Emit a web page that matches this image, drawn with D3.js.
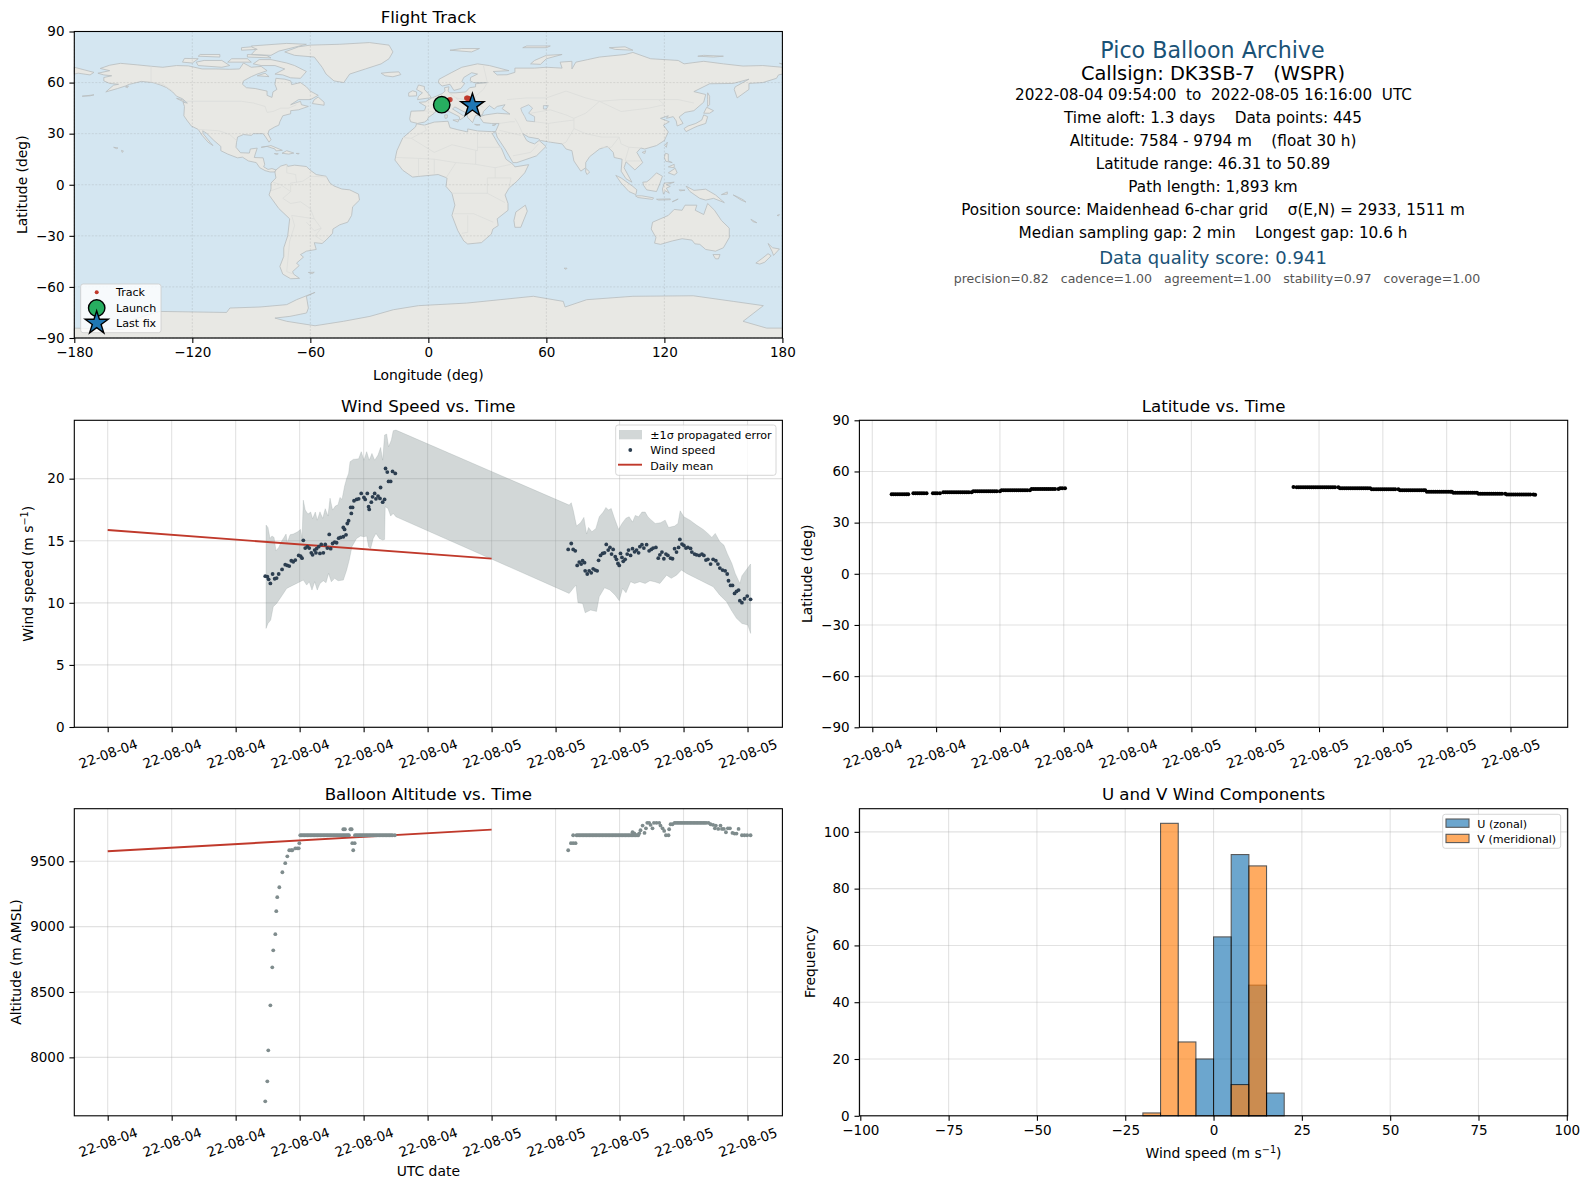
<!DOCTYPE html>
<html>
<head>
<meta charset="utf-8">
<title>Pico Balloon Archive</title>
<script src="https://cdn.jsdelivr.net/npm/d3@7"></script>
<style>
  body { margin: 0; background: #fff; }
  text { font-family: "DejaVu Sans", sans-serif; fill: #000; }
  .tick text { font-size: 13.5px; }
</style>
</head>
<body>
<svg id="fig" width="1589" height="1189"></svg>
<script>
// =====================
// Map outlines, [lon, lat]
// =====================
const landShapes = [
  // North America
  [[-168,65.5],[-162,67],[-166.8,68.3],[-162,70.2],[-156.5,71.3],[-148,70.4],[-141,69.6],[-135,69],[-128,70],[-122,69.8],[-115,68],[-108,68],[-101,67.8],[-96,68],[-94,71.5],[-90,69],[-85,69.5],[-82,67],[-87,65],[-90,63.5],[-94,61],[-94.5,59],[-92.5,57],[-88,56.5],[-82,55],[-82,52.5],[-79.5,51.3],[-79,54.5],[-77,56],[-78,59],[-77.5,62.5],[-73,62],[-70,61],[-69.5,58.8],[-65,60],[-62,57.5],[-60,55],[-56,52.5],[-60,50],[-66,50],[-70,47],[-65,49],[-64.5,47],[-61,46],[-66,44],[-70,43.5],[-70,41.7],[-74,40.5],[-75.5,37],[-76,35],[-78,34],[-81,32],[-81.5,30],[-80,26.5],[-81,25],[-82.7,28],[-84,30],[-89,30],[-90,29],[-94,29.5],[-97,28],[-97.5,25],[-97.8,22],[-95.5,18.8],[-91,18.6],[-90.5,21],[-87,21.5],[-88,18],[-88.5,16],[-84,15.8],[-83.2,12],[-83.7,10.5],[-81.5,9],[-79.5,9.5],[-77.5,8.7],[-78,7.5],[-80.5,7.5],[-83,8.3],[-85.7,10],[-87.5,13],[-91.5,14],[-94.5,16.2],[-97,15.8],[-102,18],[-105.5,20],[-105.5,22.5],[-109,26],[-112.5,30],[-114.7,31.7],[-114.5,30],[-111,25],[-109.5,23],[-112,25],[-115,29],[-117,32.5],[-120.5,34.5],[-122.5,37.5],[-124.3,40.5],[-124,46],[-124.7,48.4],[-122.5,48],[-125,50.5],[-128,52],[-130,54.5],[-133,57],[-136,58.5],[-140,60],[-146,60.7],[-150,59.5],[-152,59],[-154,58],[-158,56.5],[-164,54.5],[-160,58.5],[-157.5,59],[-162,59.5],[-165,61],[-165,63],[-161,64],[-165,64.5]],
  // Greenland and the Canadian islands
  [[-73,78],[-66,81],[-60,82],[-45,82.5],[-30,83.5],[-20,82],[-18,78],[-20,74],[-24,71],[-32,68],[-40,65],[-43,60],[-48,61],[-52,65],[-54,69],[-58,75],[-68,76]],
  [[-80,73.5],[-72,71.5],[-68,70],[-62,66.5],[-65,62.5],[-70,62.8],[-74,64.5],[-78,65],[-73,68],[-78,70],[-85,70],[-89,71],[-86,73.5]],
  [[-117,70],[-105,69],[-101,70],[-105,73],[-114,73],[-118,72]],
  [[-125,72],[-120,71.5],[-117,74],[-124,74.2]],
  [[-90,76.5],[-80,76],[-76,78.5],[-62,82.5],[-72,83],[-90,81.5],[-88,79]],
  [[-92,75],[-80,74.5],[-82,75.8],[-92,76.5]],
  [[-117,75.5],[-106,75],[-106,76.5],[-116,76.5]],
  [[-102,72],[-90,72],[-92,74],[-100,74]],
  [[-95,79],[-87,79.5],[-90,81],[-95,80.5]],
  [[-87,64],[-81,63.5],[-83,65.5]],
  [[-59,47.7],[-53,46.7],[-53,48.5],[-56,51.5],[-58,50]],
  [[-128,50.7],[-124,48.5],[-125,50]],
  // Caribbean, Pacific bits
  [[-85,22],[-80,23],[-74.2,20.2],[-77.5,19.9],[-78,21],[-82,22.5]],
  [[-74.4,18.5],[-72,20],[-68.4,18.6],[-71,18]],
  [[-78.3,18.3],[-76.3,18.2],[-77,17.8]],
  [[-67.2,18.4],[-65.7,18.4],[-66,18]],
  [[-156,20.2],[-155,19.7],[-155.7,19]],
  [[-160,22],[-157.8,21.6],[-158.5,21.2]],
  [[-176,52],[-170,52.8],[-172,52.2]],
  [[-154,57.5],[-152.5,58],[-153,57]],
  // South America
  [[-77.5,8.7],[-75,11],[-72,12],[-71.5,10.8],[-68,11.5],[-62,10.7],[-60,8.5],[-57,6],[-52,5],[-50,1],[-48,-0.7],[-44,-2.5],[-40,-3],[-35.5,-5.5],[-35,-9],[-38.5,-13],[-39,-18],[-41,-22],[-45,-23.5],[-48.5,-26],[-48.7,-28.5],[-52,-32.5],[-54,-34.5],[-58,-34],[-57,-38],[-62,-39],[-65,-41],[-63.5,-42.5],[-67,-46],[-65.7,-47.5],[-69,-51],[-68.5,-52.5],[-65.5,-55],[-70,-55.2],[-74,-52.5],[-75.5,-48],[-73.5,-42],[-73.5,-37],[-71.5,-30],[-70.5,-20],[-76,-14],[-81,-6],[-80,-2.5],[-80,1],[-77.5,4],[-78,7.5]],
  [[-61,-51.5],[-58,-51.4],[-59,-52.2]],
  // Africa and islands
  [[-6,35.8],[-2,35],[3,36.8],[10,37.3],[11,33.5],[15,32.3],[20,31],[20,32.8],[25,31.6],[32,31.2],[34.2,31.3],[32.5,30],[35.5,24],[37.3,21],[39.5,15],[43,12],[44,10.5],[51,11.8],[49,7],[45,2],[41,-2],[39,-6],[40.5,-11],[40.5,-15],[35,-20],[35.5,-24],[32.8,-26],[32,-29],[27,-34],[20,-34.8],[18,-33],[15,-27],[12,-18],[13.5,-12],[12,-5],[9,-1],[9.5,4],[5,6],[-4,5],[-8,4.5],[-13,8.5],[-17,14.5],[-16,20],[-13,27.5],[-9.5,31],[-6.5,34]],
  [[49.3,-12],[50.3,-15.5],[47,-25],[44,-25],[43.5,-21],[44.5,-16]],
  [[69,-49],[70.5,-49],[70,-49.7]],
  // Eurasia
  [[-9,37],[-9.5,38.7],[-8.8,43.2],[-2,43.5],[-1.2,46],[-4.7,48.4],[-1.5,48.7],[1.5,50.8],[4,52],[7,53.5],[8.5,55],[8.2,57],[10.5,57.5],[10,55],[11,54],[14,54],[19,54.5],[21,57],[24,57.5],[24,59.3],[30,60],[23,60],[21.3,61],[21.5,63],[25,65],[22,65.8],[18,63],[17,60.5],[18.5,59.5],[16.5,56.5],[13,55.4],[11,59],[7,58],[5,60],[5.5,62],[12,66],[17,69],[25,71],[31,70],[41,67],[33,66.5],[35,64.5],[40,64.6],[44,66],[44,68.5],[54,68.5],[60,69],[68,68.5],[67,72],[73,72.5],[73,68],[75,72],[81,73.5],[87,75],[100,76.5],[104,77.7],[113,74],[127,73],[130,71],[140,72.5],[150,71],[160,69.7],[170,70],[180,69],[180,65],[178,64.5],[177,62.5],[170,60],[163,59.5],[163,56],[157,51],[155.5,56],[156,57.5],[163,62],[155,59.5],[143,59.3],[135,54.7],[141,53],[140,48.5],[135,43.5],[130.5,42.5],[127.5,39.8],[129.5,36],[126.5,34.5],[126,37.5],[124.5,40],[121,39],[122,40.5],[118,39],[122.5,37],[119.5,35],[122,31],[120,26],[116,23],[110,21],[108,21.6],[106,19],[109,13],[105,8.7],[100.5,13.5],[99.5,10],[103.5,1.5],[100.5,3.5],[98,8],[98.5,15],[94.5,16],[94,19],[91,22.5],[87,21],[82,16.5],[80,13],[80,10],[77.5,8],[74,14],[73,20],[70,21],[68,24],[62,25],[57,26],[56,27],[51,28],[48,30],[50,26],[51.5,25],[54,24],[56.3,26],[59.8,22.5],[55,17],[45,13],[43,13],[39,21],[35,28],[34.2,31.3],[36,36],[32,36],[28,36.5],[26.5,39],[26,40],[29,41],[35,42],[41.5,41.5],[37.5,44.7],[39,47],[35,46],[33.5,44.5],[31,46.5],[28,43],[27.5,41],[24,40.7],[23,38],[22.5,36.5],[20,39.5],[19.5,42],[13.5,45.7],[12.3,44.5],[18.5,40],[16,38],[15.7,40],[10.5,43],[8.5,44.4],[4,43.4],[3,42],[0,39.5],[-0.5,38],[-2,36.8],[-5.5,36]],
  [[-180,69],[-175,67.5],[-170,66],[-172,64.5],[-178,65.5],[-180,65]],
  // European and Arctic islands
  [[-5.5,50],[1.5,51.2],[0,53.5],[-2,56],[-2,57.7],[-5,58.6],[-6,56],[-3,54],[-5,52]],
  [[-10,52],[-6,52.2],[-6,54.5],[-8,55.2],[-10,54]],
  [[-24,65.5],[-22,64],[-18,63.4],[-14,64.7],[-15,66.3],[-20,66]],
  [[12.5,38],[15.5,38.2],[15,36.8]],
  [[8.3,41],[9.7,41],[9.5,39.2],[8.5,39]],
  [[23.5,35.5],[26.3,35.2],[24.7,34.9]],
  [[32.5,35],[34.5,35.6],[33.5,34.7]],
  [[52,71],[57,70.7],[60,74],[68,76.5],[60,76],[54,73]],
  [[11,79],[22,78],[26,80],[17,80]],
  [[48,80.5],[60,80.5],[62,81.5],[50,81.5]],
  [[95,79.5],[104,79],[100,81],[92,80.5]],
  [[137,75.5],[145,75],[150,75.5],[140,76]],
  [[178.5,71.3],[180,71],[180,70.8]],
  // East Asia and the islands down to Australia
  [[142,54],[143,52],[143,47],[142,46],[142,50]],
  [[130,33],[132,34.5],[136,36],[139,38],[140,41],[142,40],[141,36],[137,34.5],[135,33.5],[131,31.2]],
  [[140,42],[141.5,45.5],[145,43.5],[143,42]],
  [[120.2,23],[121.5,25],[121,22]],
  [[108.7,19],[110.5,20],[110,18.3]],
  [[120,16],[120.5,18.5],[122,18],[122,14],[124,13],[120.7,13.8]],
  [[122,7],[125.5,9.7],[126.5,7],[125,5.7]],
  [[122,10.5],[125,12],[125,10]],
  [[109,1.5],[111,1.7],[113,3.5],[116,7],[119,5],[117.8,1],[116,-4],[111,-3],[109.5,-0.5]],
  [[95.3,5.5],[98,4],[104,-1],[106,-3],[105.5,-5.8],[102,-4],[98,1]],
  [[105.3,-6.5],[108.5,-6.5],[114.5,-7.7],[114,-8.6],[106.5,-7.5]],
  [[119.5,-5.5],[119,-2.5],[120,1],[125,1.5],[121,0],[123,-1],[121,-2],[122.5,-5],[120.5,-3.5]],
  [[116,-8.5],[123,-8.3],[123,-8.8],[117,-9]],
  [[124,-10],[127,-8.4],[125,-9.5]],
  [[127.5,-3],[130.5,-3.2],[128,-3.6]],
  [[131,-0.8],[135,-3.3],[141,-2.6],[146,-6],[150.5,-10.5],[145,-8],[141,-9],[138,-8],[133,-4]],
  [[149,-5.8],[152,-4.2],[152,-5.5]],
  [[155,-6],[157,-7],[160,-8.8],[161.5,-10.2],[159,-9]],
  [[80,9.7],[82,7.5],[80.7,6],[80,7.5]],
  [[114,-22],[122,-18],[125,-14.5],[129,-15],[130.5,-12],[136.5,-12],[135.7,-15],[140,-17.5],[142,-11],[145.5,-15],[149,-21],[153,-25.5],[153,-31],[150,-37],[146,-39],[141,-38],[138,-35],[135.5,-34.7],[134,-32.5],[129,-31.7],[124,-33],[118,-35],[115,-34.3],[115.7,-31],[113.3,-26]],
  [[144.7,-41],[148.3,-41],[147.5,-43.5],[146,-43.5]],
  [[172.7,-34.5],[175,-37],[178.5,-37.7],[175.5,-41.5],[174.7,-39]],
  [[172.7,-40.5],[174.3,-41.7],[171,-45.5],[168.5,-46.6],[166.5,-46],[170,-43]],
  [[164,-20.3],[167,-22.3],[165,-21.7]],
  [[177.3,-18],[178.5,-17.5],[178,-18.3]],
  // Antarctica
  [[-180,-84.2],[-155,-85],[-150,-79],[-136.5,-74.4],[-102.6,-75],[-100.9,-72.4],[-85.6,-71.8],[-72,-70.4],[-67,-67.5],[-57.6,-63.2],[-62,-65.5],[-61,-72.4],[-61.9,-75.3],[-70.4,-77.3],[-78,-78.3],[-72,-80.2],[-57.6,-82.8],[-43.2,-80.2],[-29.7,-77.3],[-17.8,-73.4],[-5,-71],[19.5,-69.5],[53.4,-65.5],[68.6,-68.5],[69.5,-71.8],[80.5,-67.5],[104,-65.5],[134.7,-65.2],[155,-68.5],[170.3,-71],[160,-80.2],[172,-84.2],[180,-84.2],[180,-90],[-180,-90]]
];
const lakeShapes = [
  [[47,45],[51,47],[53,45],[51,42],[54,40],[54,37],[50,37.5],[49,40],[47.5,43]],
  [[58.5,46.5],[61,46.5],[60,44.5],[58.5,44.5]]
];
const borderLines = [
  [[-123,49],[-95,49],[-89,48],[-83,46],[-82,42.5],[-79,43],[-75,45],[-71,45],[-67,47]],
  [[-141,69.6],[-141,60.3],[-135,59],[-130,55]],
  [[-117,32.5],[-106.5,31.7],[-101,29.5],[-97.5,26]],
  [[-51.5,4.5],[-60,5],[-64,2],[-70,1],[-70,-4],[-74,-8],[-70,-11],[-65,-10],[-60,-14],[-58,-20],[-54.5,-25.5],[-57.5,-30],[-53,-33.5]],
  [[-69.5,-18],[-68,-24],[-70.5,-33],[-71.5,-45],[-72,-51],[-68.5,-52.5]],
  [[-72,12],[-72,7],[-67.5,6],[-67,1.5]],
  [[-79,1.5],[-75,0],[-70,-4]],
  [[-80,-3.5],[-75,-1.5]],
  [[-69.5,-18],[-58,-20]],
  [[-62,-22],[-58,-27],[-54.5,-25.5]],
  [[-8.7,27.3],[-1,32],[-2,35]],
  [[-13,27.7],[-8.7,27.3],[3,19],[12,23.5],[25,20],[25,31.6]],
  [[25,22],[37,22]],
  [[-16.5,16],[-5,15.5],[3,15],[14,13],[24,12],[24,20]],
  [[14,13],[9,4]],
  [[24,12],[34,10],[42,12]],
  [[34,4],[34,10]],
  [[12,-5],[30,-5],[30,4],[34,4],[42,4],[41,-2]],
  [[13,-17],[23,-17],[25,-18],[33,-22]],
  [[20,-18],[20,-28],[17,-28.5]],
  [[30,-5],[39,-10.5]],
  [[-5,5],[-5,15.5]],
  [[3,6.5],[3,15]],
  [[28,70],[30,60],[28,56],[24,52],[23,48],[28,45.5]],
  [[10,54.5],[14,51],[23,49]],
  [[-2,43.5],[3,42.5]],
  [[2,51],[8,48],[7,44]],
  [[14,51],[17,48],[23,48]],
  [[40,50],[50,51],[60,51],[70,55],[80,51],[87,49],[98,50],[107,50],[117,50],[127,50],[135,48]],
  [[87,49],[80,42],[74,39],[74,33],[80,30],[88,28],[97,28],[98,24],[102,22],[108,21.6]],
  [[97,28],[93,22],[88,22]],
  [[74,33],[70,25],[68,24]],
  [[61,25],[61,36],[67,37],[74,38]],
  [[54,37],[61,36]],
  [[44,39],[46,35],[48,30]],
  [[36,36],[42,37],[44,37]],
  [[36,32],[47,29]],
  [[52,42],[62,44],[70,41],[74,39]],
  [[87,49],[98,43],[112,45],[120,47],[117,50]],
  [[102,22],[100,14],[105,14],[108,14]],
  [[43,17],[52,19],[56,24]]
];

// =====================
// Map markers, [lon, lat]
// =====================
const trackPoints = [[7,47],[8,48],[9,48.8],[10,49.5],[11,50],[19.5,50.9],[20,50.8],[20.5,50.5],[21,49.5],[22,47.5]];
const launchPoint = [6.8, 47];
const lastFixPoint = [22.4, 46.6];

// =====================
// Time series. Hours are counted from 2022-08-04 00:00 UTC.
// =====================
const windPoints = [
  [9.85,12.15],[9.98,12.1],[10.06,11.89],[10.17,11.56],[10.31,12.32],[10.44,11.94],[10.56,11.99],[10.69,12.32],[10.9,12.69],[11.1,13.07],[11.23,13.01],[11.35,12.96],[11.48,13.39],[11.6,13.31],[11.73,13.44],[11.94,13.82],[12.06,13.76],[12.15,13.6],[12.23,15.03],[12.35,14.41],[12.48,14.52],[12.6,14.41],[12.73,14.03],[12.81,13.87],[12.94,14.25],[13.02,14.03],[13.06,14.36],[13.19,14.52],[13.27,13.98],[13.35,14.7],[13.48,14.03],[13.6,14.7],[13.73,14.41],[13.85,15.51],[13.94,14.36],[14.06,14.78],[14.19,14.89],[14.31,14.84],[14.44,15.21],[14.56,15.27],[14.73,15.32],[14.9,15.48],[14.73,16.07],[14.81,15.91],[14.98,16.39],[15.06,16.61],[15.23,17.2],[15.19,17.68],[15.31,17.68],[15.4,18.22],[15.56,18.33],[15.69,18.38],[15.85,18.81],[16.02,18.49],[16.1,18.33],[16.23,18.81],[16.31,17.74],[16.35,17.52],[16.48,18.11],[16.56,18.54],[16.69,18.81],[16.77,18.38],[16.9,18.6],[17.02,18.41],[17.19,18.11],[17.31,18.33],[17.06,19.29],[17.37,20.82],[17.48,20.53],[17.56,19.78],[17.69,19.78],[17.81,20.58],[17.98,20.42],
  [28.79,14.3],[28.98,14.78],[29.1,14.3],[29.23,14.19],[29.35,13.01],[29.48,13.28],[29.6,13.12],[29.69,13.39],[29.81,13.23],[29.85,12.58],[29.98,12.32],[30.1,12.58],[30.23,12.42],[30.35,12.74],[30.48,12.64],[30.6,12.58],[30.69,13.42],[30.81,13.82],[30.94,13.98],[31.06,14.03],[31.17,14.7],[31.29,14.25],[31.4,14.46],[31.5,13.93],[31.6,14.3],[31.73,13.71],[31.81,13.5],[31.9,13.17],[31.98,13.01],[32.06,13.98],[32.15,13.66],[32.23,13.34],[32.35,13.5],[32.48,13.93],[32.56,14.25],[32.69,13.82],[32.81,14.36],[32.94,14.11],[33.06,14.25],[33.19,14.03],[33.27,14.52],[33.4,14.68],[33.52,14.41],[33.69,14.68],[33.85,14.19],[33.98,14.3],[34.1,14.41],[34.27,14.46],[34.42,13.6],[34.52,13.87],[34.65,14.09],[34.77,13.55],[34.9,13.93],[35.02,13.82],[35.19,13.6],[35.31,13.55],[35.44,14.36],[35.56,14.09],[35.69,14.46],[35.77,15.11],[35.9,14.73],[36.02,14.62],[36.15,14.41],[36.27,14.46],[36.44,14.38],[36.52,14.09],[36.69,13.93],[36.81,13.87],[36.98,13.82],[37.15,13.93],[37.27,13.82],[37.4,13.44],[37.52,13.5],[37.69,13.12],[37.85,13.5],[38.02,13.39],[38.15,13.12],[38.27,12.8],[38.44,12.64],[38.6,12.58],[38.73,12.32],[38.81,11.78],[38.94,11.4],[39.06,11.4],[39.19,10.76],[39.31,10.92],[39.44,11.03],[39.52,10.17],[39.65,10.01],[39.81,10.33],[39.98,10.54],[40.19,10.28]
];
const bandUpper = [
  [9.9,16.26],[10.02,16.07],[10.15,15.19],[10.27,15.38],[10.4,15.27],[10.52,14.19],[10.69,14.46],[10.85,14.92],[11.02,15.27],[11.15,15.54],[11.23,14.84],[11.4,15.48],[11.6,15.54],[11.85,15.7],[12.06,15.91],[12.15,15.19],[12.23,18.27],[12.35,17.47],[12.52,17.15],[12.69,17.31],[12.81,16.77],[12.98,17.31],[13.1,16.66],[13.27,17.33],[13.44,16.8],[13.6,17.58],[13.77,16.99],[13.9,18.43],[14.06,17.47],[14.23,17.79],[14.4,17.9],[14.52,18.49],[14.65,18.33],[14.81,19.4],[14.94,20.02],[15.06,20.42],[15.15,21.36],[15.35,21.55],[15.69,21.6],[15.85,22.17],[16.02,21.49],[16.19,22.17],[16.35,21.49],[16.52,22.03],[16.69,21.49],[16.9,21.9],[17.06,22.51],[17.19,21.49],[17.31,23.51],[17.44,23.59],[17.56,22.57],[17.73,23.1],[17.85,23.86],[18.02,23.91],
  [28.85,17.87],[28.98,18.06],[29.1,17.47],[29.31,16.18],[29.56,16.45],[29.77,16.88],[29.94,15.54],[30.06,16.07],[30.27,15.72],[30.52,15.99],[30.73,16.93],[30.98,17.31],[31.15,17.68],[31.31,17.47],[31.48,17.6],[31.65,16.93],[31.94,15.91],[32.15,16.39],[32.4,16.82],[32.6,16.93],[32.81,16.5],[32.98,17.04],[33.19,16.93],[33.4,17.31],[33.6,17.31],[33.77,16.93],[33.94,16.72],[34.23,16.39],[34.56,16.45],[34.85,16.66],[35.06,16.07],[35.44,16.18],[35.65,16.39],[35.79,17.41],[36.02,16.93],[36.4,16.66],[36.81,16.26],[37.23,15.91],[37.52,15.59],[37.77,15.27],[37.98,15.59],[38.27,14.92],[38.52,14.65],[38.73,13.98],[39.02,13.17],[39.23,12.37],[39.52,11.56],[39.65,12.18],[39.85,12.53],[40.19,13.12]
];
const bandLower = [
  [9.9,7.94],[10.02,8.34],[10.19,8.61],[10.35,9.69],[10.56,9.95],[10.85,10.49],[11.19,11.16],[11.4,11.3],[11.81,11.56],[12.02,11.7],[12.23,11.83],[12.44,11.43],[12.6,11.7],[12.77,11.03],[12.94,11.7],[13.1,11.03],[13.27,11.56],[13.48,11.78],[13.65,11.62],[13.81,12.37],[13.98,11.7],[14.19,11.97],[14.4,11.78],[14.73,11.83],[14.94,12.64],[15.1,13.44],[15.27,14.52],[15.56,15.19],[15.81,15.38],[16.02,15.32],[16.19,15.38],[16.31,14.52],[16.44,14.38],[16.6,15.19],[16.77,15.59],[16.98,15.19],[17.19,15.05],[17.31,15.11],[17.35,17.74],[17.52,17.6],[17.69,16.99],[17.85,17.2],[18.02,16.93],
  [28.85,10.76],[29.27,11.43],[29.4,10.01],[29.69,9.95],[29.85,9.2],[30.19,9.42],[30.56,9.31],[30.73,10.49],[31.06,11.21],[31.4,11.03],[31.73,10.62],[31.98,10.17],[32.19,11.16],[32.4,10.81],[32.69,11.7],[32.94,11.56],[33.27,11.7],[33.6,11.56],[33.9,11.78],[34.19,11.7],[34.52,11.56],[34.94,12.23],[35.23,11.97],[35.56,12.23],[35.87,12.64],[36.19,12.37],[36.6,12.1],[37.1,11.78],[37.44,11.56],[37.85,11.3],[38.27,10.62],[38.69,10.09],[38.98,9.42],[39.31,8.75],[39.65,8.34],[40.02,8.21],[40.19,7.54]
];
const meanHours = [0, 24];
const windMean = [15.86, 13.56];
const altMean = [9576, 9742];

const altPoints = [
  [9.85,7664],[9.98,7817],[10.04,8054],[10.17,8398],[10.29,8689],[10.35,8819],[10.48,8942],[10.54,9118],[10.6,9225],[10.73,9301],[10.92,9416],[11.1,9485],[11.23,9538],[11.35,9584],[11.48,9584],[11.54,9584],[11.73,9599],[11.85,9599],[11.94,9599],[11.98,9638],
  [14.73,9745],[14.83,9745],[15.17,9745],[15.25,9745],[15.29,9638],[15.44,9638],[15.35,9584],
  [28.79,9584],[28.96,9638],[29.1,9638],[29.25,9638],[29.1,9699],[32.81,9722],[32.92,9714],[33.23,9714],[33.31,9737],[33.44,9773],[33.56,9717],[33.65,9752],[33.73,9794],[33.85,9794],[33.94,9778],[34.06,9752],[34.15,9794],[34.31,9794],[34.48,9794],[34.56,9773],[34.69,9752],[34.79,9732],[34.9,9699],[35.06,9699],[35.1,9745],[35.19,9783],[35.31,9783],
  [37.69,9783],[37.85,9778],[37.96,9752],[38.02,9773],[38.17,9747],[38.31,9773],[38.4,9747],[38.52,9747],[38.65,9722],[38.77,9752],[38.9,9752],[39.06,9717],[39.19,9712],[39.31,9712],[39.44,9747],[39.65,9699],[39.81,9699],[39.98,9699],[40.19,9699]
];
// The float levels: one altitude, many fixes.
const floatLow = 9699, floatHigh = 9794;
const floatLowHours = [12.04,12.13,12.22,12.31,12.4,12.49,12.58,12.67,12.76,12.85,12.94,13.03,13.12,13.21,13.3,13.39,13.48,13.57,13.66,13.75,13.84,13.93,14.02,14.11,14.2,14.29,14.38,14.47,14.56,14.65,14.74,14.83,14.92,15.01,15.08,
  15.46,15.55,15.64,15.73,15.82,15.91,16.0,16.09,16.18,16.27,16.36,16.45,16.54,16.63,16.72,16.81,16.9,16.99,17.08,17.17,17.26,17.35,17.44,17.53,17.62,17.71,17.8,17.95,
  29.31,29.4,29.49,29.58,29.67,29.76,29.85,29.94,30.03,30.12,30.21,30.3,30.39,30.48,30.57,30.66,30.75,30.84,30.93,31.02,31.11,31.2,31.29,31.38,31.47,31.56,31.65,31.74,31.83,31.92,32.01,32.1,32.19,32.28,32.37,32.46,32.55,32.64,32.73,32.82,32.91,33.0,33.09,33.17];
const floatHighHours = [35.44,35.53,35.62,35.71,35.8,35.89,35.98,36.07,36.16,36.25,36.34,36.43,36.52,36.61,36.7,36.79,36.88,36.97,37.06,37.15,37.24,37.33,37.42,37.56];

// Latitude stays on a grid square for a while, then jumps: [lat, hours...]
const latRuns = [
  [46.6, [9.91,10.0,10.1,10.2,10.3,10.4,10.5,10.6,10.69]],
  [47.2, [10.93,11.03,11.13,11.23,11.33,11.43,11.55,11.85,11.95,12.05,12.18]],
  [47.76, [12.34,12.44,12.54,12.64,12.74,12.84,12.94,13.04,13.14,13.24,13.34,13.44,13.54,13.67]],
  [48.35, [13.75,13.85,13.95,14.05,14.15,14.25,14.35,14.45,14.55,14.65,14.75,14.85,15.0]],
  [49.04, [15.08,15.18,15.28,15.38,15.48,15.58,15.68,15.78,15.88,15.98,16.08,16.18,16.28,16.41]],
  [49.72, [16.49,16.59,16.69,16.79,16.89,16.99,17.09,17.19,17.29,17.39,17.49,17.59,17.75]],
  [50.1, [17.83,17.93,18.06]],
  [50.89, [28.8]],
  [50.8, [28.95,29.05,29.15,29.25,29.35,29.45,29.55,29.65,29.75,29.85,29.95,30.05,30.15,30.25,30.35,30.45,30.55,30.65,30.75,30.91]],
  [50.1, [30.99,31.09,31.19,31.29,31.39,31.49,31.59,31.69,31.79,31.89,31.99,32.09,32.19,32.29,32.4]],
  [49.53, [32.48,32.58,32.68,32.78,32.88,32.98,33.08,33.18,33.28,33.38,33.48,33.58,33.73]],
  [48.94, [33.81,33.91,34.01,34.11,34.21,34.31,34.41,34.51,34.61,34.71,34.81,34.91,34.99]],
  [48.16, [35.07,35.17,35.27,35.37,35.47,35.57,35.67,35.77,35.87,35.97,36.07,36.17,36.24]],
  [47.57, [36.32,36.42,36.52,36.62,36.72,36.82,36.92,37.02,37.12,37.22,37.32,37.42]],
  [46.98, [37.5,37.6,37.7,37.8,37.9,38.0,38.1,38.2,38.3,38.4,38.5,38.6,38.75]],
  [46.5, [38.83,38.93,39.03,39.13,39.23,39.33,39.43,39.53,39.63,39.73,39.83,39.93,40.08]],
  [46.31, [40.16]]
];

// =====================
// Histogram counts, per 5 m/s bin
// =====================
const binEdges = [-20, -15, -10, -5, 0, 5, 10, 15];
const uCounts = [0, 0, 0, 20, 63, 92, 46, 8];
const vCounts = [1, 103, 26, 0, 0, 11, 88, 0];

// =====================
// Info panel text: line, y, font size, colour, x
// =====================
const infoLines = [
  ["Pico Balloon Archive", 50.5, 22.2, "#1a5276", 1212.5],
  ["Callsign: DK3SB-7   (WSPR)", 73.3, 19.4, "#000", 1213],
  ["2022-08-04 09:54:00  to  2022-08-05 16:16:00  UTC", 94.3, 15.2, "#000", 1213.5],
  ["Time aloft: 1.3 days    Data points: 445", 117.3, 15.28, "#000", 1213],
  ["Altitude: 7584 - 9794 m    (float 30 h)", 140.3, 15.28, "#000", 1213],
  ["Latitude range: 46.31 to 50.89", 163.3, 15.28, "#000", 1213],
  ["Path length: 1,893 km", 186.3, 15.28, "#000", 1213],
  ["Position source: Maidenhead 6-char grid    σ(E,N) = 2933, 1511 m", 209.7, 15.28, "#000", 1213],
  ["Median sampling gap: 2 min    Longest gap: 10.6 h", 232.7, 15.28, "#000", 1213],
  ["Data quality score: 0.941", 257.3, 18, "#1a5276", 1213],
  ["precision=0.82   cadence=1.00   agreement=1.00   stability=0.97   coverage=1.00", 278, 12.55, "#555", 1217]
];

// =====================
// Layout and colours
// =====================
const colLeft = [74.3, 782.4], colRight = [859.4, 1567.7];
const rowTop = [31.5, 338], rowMid = [420.3, 727.3], rowBot = [808.7, 1115.8];
const red = "#c0392b", slate = "#2c3e50", teal = "#7f8c8d";
const tickLen = 4.9, tickPad = 4.9;

const svg = d3.select("#fig");
const hourToDate = h => new Date(Date.UTC(2022, 7, 4) + h * 3600e3);
const axisDate = d3.utcFormat("%y-%m-%d");

// Draws grid, axes and spines for one panel, returns the layers to draw in.
function panel(cols, rows, x, y, xAxis, yAxis, title, gridStyle) {
  const g = svg.append("g");
  const back = g.append("g");
  const grid = g.append("g").attr("fill", "none")
    .attr("stroke", gridStyle.color).attr("stroke-opacity", gridStyle.opacity)
    .attr("stroke-width", gridStyle.width).attr("stroke-dasharray", gridStyle.dash);
  xAxis.tickValues().forEach(t => {
    grid.append("line").attr("x1", x(t)).attr("x2", x(t)).attr("y1", rows[0]).attr("y2", rows[1]);
  });
  yAxis.tickValues().forEach(t => {
    grid.append("line").attr("x1", cols[0]).attr("x2", cols[1]).attr("y1", y(t)).attr("y2", y(t));
  });
  const marks = g.append("g");

  const gx = g.append("g").attr("transform", `translate(0,${rows[1]})`)
    .call(xAxis.tickSize(tickLen).tickPadding(tickPad).tickSizeOuter(0));
  const gy = g.append("g").attr("transform", `translate(${cols[0]},0)`)
    .call(yAxis.tickSize(tickLen).tickPadding(tickPad).tickSizeOuter(0));
  gx.select(".domain").remove();
  gy.select(".domain").remove();
  g.selectAll(".tick line").attr("stroke", "#000").attr("stroke-width", 1.1);

  g.append("rect").attr("x", cols[0]).attr("y", rows[0])
    .attr("width", cols[1] - cols[0]).attr("height", rows[1] - rows[0])
    .attr("fill", "none").attr("stroke", "#000").attr("stroke-width", 1.1);

  g.append("text").attr("x", (cols[0] + cols[1]) / 2).attr("y", rows[0] - 8.3)
    .attr("text-anchor", "middle").attr("font-size", 16.67).text(title);
  return { g, back, marks, gx };
}

function rotateDateLabels(gx) {
  gx.selectAll(".tick text")
    .attr("y", 0).attr("dy", "0.35em")
    .attr("transform", "translate(0,26.5) rotate(-20)");
}

function axisLabel(text, x, y, rotated, sup) {
  const t = svg.append("text").attr("text-anchor", "middle").attr("font-size", 13.9)
    .attr("transform", `translate(${x},${y})` + (rotated ? " rotate(-90)" : ""));
  t.append("tspan").text(text);
  if (sup) {
    t.append("tspan").text("\u22121").attr("font-size", 9.7).attr("dy", -5.5);
    t.append("tspan").text(")").attr("dy", 5.5);
  }
}

const plotGrid = { color: "#b0b0b0", opacity: 0.36, width: 1.1, dash: null };
const mapGrid = { color: "#808080", opacity: 0.28, width: 0.7, dash: "2,1.5" };

// =====================
// Flight Track map
// =====================
const lonScale = d3.scaleLinear([-180, 180], colLeft);
const latScale = d3.scaleLinear([-90, 90], [rowTop[1], rowTop[0]]);
const mapPanel = panel(colLeft, rowTop, lonScale, latScale,
  d3.axisBottom(lonScale).tickValues(d3.range(-180, 181, 60)),
  d3.axisLeft(latScale).tickValues(d3.range(-90, 91, 30)),
  "Flight Track", mapGrid);
const mapPath = d3.line().x(d => lonScale(d[0])).y(d => latScale(d[1]));

mapPanel.back.append("rect").attr("x", colLeft[0]).attr("y", rowTop[0])
  .attr("width", colLeft[1] - colLeft[0]).attr("height", rowTop[1] - rowTop[0])
  .attr("fill", "#d4e6f1");
mapPanel.back.selectAll("path.land").data(landShapes).enter().append("path")
  .attr("class", "land").attr("d", d => mapPath(d) + "Z")
  .attr("fill", "#e8e8e4").attr("stroke", "#b8bcbe").attr("stroke-width", 0.8)
  .attr("stroke-linejoin", "round");
mapPanel.back.selectAll("path.border").data(borderLines).enter().append("path")
  .attr("class", "border").attr("d", mapPath)
  .attr("fill", "none").attr("stroke", "#dcdddb").attr("stroke-width", 0.8);
mapPanel.back.selectAll("path.lake").data(lakeShapes).enter().append("path")
  .attr("class", "lake").attr("d", d => mapPath(d) + "Z")
  .attr("fill", "#d4e6f1").attr("stroke", "#b8bcbe").attr("stroke-width", 0.7);

mapPanel.marks.selectAll("circle").data(trackPoints).enter().append("circle")
  .attr("cx", d => lonScale(d[0])).attr("cy", d => latScale(d[1]))
  .attr("r", 2.7).attr("fill", red).attr("fill-opacity", 0.9);

const starPath = d3.symbol(d3.symbolStar, 165)();
mapPanel.marks.append("circle")
  .attr("cx", lonScale(launchPoint[0])).attr("cy", latScale(launchPoint[1]))
  .attr("r", 8.2).attr("fill", "#27ae60").attr("stroke", "#000").attr("stroke-width", 1.4);
mapPanel.marks.append("path").attr("d", starPath)
  .attr("transform", `translate(${lonScale(lastFixPoint[0])},${latScale(lastFixPoint[1])})`)
  .attr("fill", "#1f77b4").attr("stroke", "#000").attr("stroke-width", 1.4);

// Map legend
const mapLegend = svg.append("g");
mapLegend.append("rect").attr("x", 80.7).attr("y", 284).attr("width", 80.3).attr("height", 48.7).attr("rx", 2.5)
  .attr("fill", "#fff").attr("fill-opacity", 0.8).attr("stroke", "#ccc").attr("stroke-width", 0.8);
mapLegend.append("circle").attr("cx", 96.7).attr("cy", 292.3).attr("r", 2).attr("fill", red);
mapLegend.append("circle").attr("cx", 96.7).attr("cy", 308).attr("r", 8.2)
  .attr("fill", "#27ae60").attr("stroke", "#000").attr("stroke-width", 1.4);
mapLegend.append("path").attr("d", starPath).attr("transform", "translate(96.7,323)")
  .attr("fill", "#1f77b4").attr("stroke", "#000").attr("stroke-width", 1.4);
[["Track", 292.3], ["Launch", 308.3], ["Last fix", 323.3]].forEach(d => {
  mapLegend.append("text").attr("x", 116).attr("y", d[1]).attr("dy", "0.35em")
    .attr("font-size", 11.1).text(d[0]);
});
axisLabel("Longitude (deg)", 428.3, 379.5, false);
axisLabel("Latitude (deg)", 27, 184.7, true);

// =====================
// Info panel
// =====================
svg.append("g").selectAll("text").data(infoLines).enter().append("text")
  .attr("x", d => d[4]).attr("y", d => d[1]).attr("dy", "0.36em")
  .attr("text-anchor", "middle").attr("font-size", d => d[2])
  .style("white-space", "pre").style("fill", d => d[3]).text(d => d[0]);

// =====================
// Shared time scale for the wind and altitude panels: 4 hour ticks
// =====================
const longTime = d3.scaleUtc([hourToDate(-2.0875), hourToDate(42.18)], colLeft);
const longTicks = d3.utcHour.every(4).range(hourToDate(0), hourToDate(41));
const longAxis = () => d3.axisBottom(longTime).tickValues(longTicks).tickFormat(axisDate);

// =====================
// Wind Speed vs. Time
// =====================
const windY = d3.scaleLinear([0, 24.7], [727, rowMid[0]]);
const windPanel = panel(colLeft, rowMid, longTime, windY, longAxis(),
  d3.axisLeft(windY).tickValues(d3.range(0, 21, 5)), "Wind Speed vs. Time", plotGrid);
rotateDateLabels(windPanel.gx);

const windPath = d3.line().x(d => longTime(hourToDate(d[0]))).y(d => windY(d[1]));
windPanel.marks.append("path")
  .attr("d", windPath(bandUpper.concat(bandLower.slice().reverse())) + "Z")
  .attr("fill", teal).attr("fill-opacity", 0.35)
  .attr("stroke", teal).attr("stroke-opacity", 0.2).attr("stroke-width", 1);
windPanel.marks.append("path")
  .attr("d", windPath(meanHours.map((h, i) => [h, windMean[i]])))
  .attr("fill", "none").attr("stroke", red).attr("stroke-width", 1.9);
windPanel.marks.append("g").selectAll("circle").data(windPoints).enter().append("circle")
  .attr("cx", d => longTime(hourToDate(d[0]))).attr("cy", d => windY(d[1]))
  .attr("r", 1.9).attr("fill", slate);
axisLabel("Wind speed (m s", 33, 573.8, true, true);

const windLegend = svg.append("g");
windLegend.append("rect").attr("x", 615.7).attr("y", 425).attr("width", 160.3).attr("height", 50.3).attr("rx", 2.5)
  .attr("fill", "#fff").attr("fill-opacity", 0.8).attr("stroke", "#ccc").attr("stroke-width", 0.8);
windLegend.append("rect").attr("x", 619).attr("y", 430).attr("width", 23).attr("height", 9.3)
  .attr("fill", teal).attr("fill-opacity", 0.35);
windLegend.append("circle").attr("cx", 630.3).attr("cy", 450).attr("r", 1.9).attr("fill", slate);
windLegend.append("line").attr("x1", 618).attr("x2", 642).attr("y1", 464.7).attr("y2", 464.7)
  .attr("stroke", red).attr("stroke-width", 1.9);
[["\u00b11σ propagated error", 435.3], ["Wind speed", 450.3], ["Daily mean", 466]].forEach(d => {
  windLegend.append("text").attr("x", 650.3).attr("y", d[1]).attr("dy", "0.35em")
    .attr("font-size", 11.1).text(d[0]);
});

// =====================
// Latitude vs. Time: 3 hour ticks
// =====================
const shortTime = d3.scaleUtc([hourToDate(8.394), hourToDate(41.69)], colRight);
const shortTicks = d3.utcHour.every(3).range(hourToDate(9), hourToDate(40));
const latY = d3.scaleLinear([-90, 90], [rowMid[1], rowMid[0]]);
const latPanel = panel(colRight, rowMid, shortTime, latY,
  d3.axisBottom(shortTime).tickValues(shortTicks).tickFormat(axisDate),
  d3.axisLeft(latY).tickValues(d3.range(-90, 91, 30)), "Latitude vs. Time", plotGrid);
rotateDateLabels(latPanel.gx);

latRuns.forEach(run => {
  latPanel.marks.append("g").selectAll("circle").data(run[1]).enter().append("circle")
    .attr("cx", d => shortTime(hourToDate(d))).attr("cy", latY(run[0]))
    .attr("r", 2).attr("fill", "#000");
});
axisLabel("Latitude (deg)", 811.5, 573.8, true);

// =====================
// Balloon Altitude vs. Time
// =====================
const altY = d3.scaleLinear([7553, 9902], [rowBot[1], rowBot[0]]);
const altPanel = panel(colLeft, rowBot, longTime, altY, longAxis(),
  d3.axisLeft(altY).tickValues(d3.range(8000, 9501, 500)).tickFormat(d3.format("d")),
  "Balloon Altitude vs. Time", plotGrid);
rotateDateLabels(altPanel.gx);

const altAll = altPoints
  .concat(floatLowHours.map(h => [h, floatLow]))
  .concat(floatHighHours.map(h => [h, floatHigh]));
altPanel.marks.append("path")
  .attr("d", d3.line().x(d => longTime(hourToDate(d[0]))).y(d => altY(d[1]))(meanHours.map((h, i) => [h, altMean[i]])))
  .attr("fill", "none").attr("stroke", red).attr("stroke-width", 1.9);
altPanel.marks.append("g").selectAll("circle").data(altAll).enter().append("circle")
  .attr("cx", d => longTime(hourToDate(d[0]))).attr("cy", d => altY(d[1]))
  .attr("r", 1.9).attr("fill", teal);
axisLabel("Altitude (m AMSL)", 21, 962, true);
axisLabel("UTC date", 428.3, 1176, false);

// =====================
// U and V Wind Components
// =====================
const histX = d3.scaleLinear([-100, 100], [860.3, 1566.8]);
const histY = d3.scaleLinear([0, 108.15], [rowBot[1], rowBot[0]]);
const histPanel = panel(colRight, rowBot, histX, histY,
  d3.axisBottom(histX).tickValues(d3.range(-100, 101, 25)),
  d3.axisLeft(histY).tickValues(d3.range(0, 101, 20)), "U and V Wind Components", plotGrid);

[[uCounts, "#1f77b4"], [vCounts, "#ff7f0e"]].forEach(s => {
  histPanel.marks.append("g").selectAll("rect").data(s[0]).enter().append("rect")
    .attr("x", (d, i) => histX(binEdges[i]))
    .attr("width", (d, i) => histX(binEdges[i] + 5) - histX(binEdges[i]))
    .attr("y", d => histY(d))
    .attr("height", d => histY(0) - histY(d))
    .attr("display", d => d ? null : "none")
    .attr("fill", s[1]).attr("stroke", "#000").attr("stroke-width", 1.1)
    .attr("opacity", 0.65);
});
axisLabel("Wind speed (m s", 1213.5, 1158, false, true);
axisLabel("Frequency", 815, 962, true);

const histLegend = svg.append("g");
histLegend.append("rect").attr("x", 1442.7).attr("y", 814.3).attr("width", 118).attr("height", 34).attr("rx", 2.5)
  .attr("fill", "#fff").attr("fill-opacity", 0.8).attr("stroke", "#ccc").attr("stroke-width", 0.8);
[["U (zonal)", "#1f77b4", 819, 824], ["V (meridional)", "#ff7f0e", 834.3, 839]].forEach(d => {
  histLegend.append("rect").attr("x", 1446).attr("y", d[2]).attr("width", 23).attr("height", 8.3)
    .attr("fill", d[1]).attr("stroke", "#000").attr("stroke-width", 1.1).attr("opacity", 0.65);
  histLegend.append("text").attr("x", 1477.3).attr("y", d[3]).attr("dy", "0.35em")
    .attr("font-size", 11.1).text(d[0]);
});
</script>
</body>
</html>
